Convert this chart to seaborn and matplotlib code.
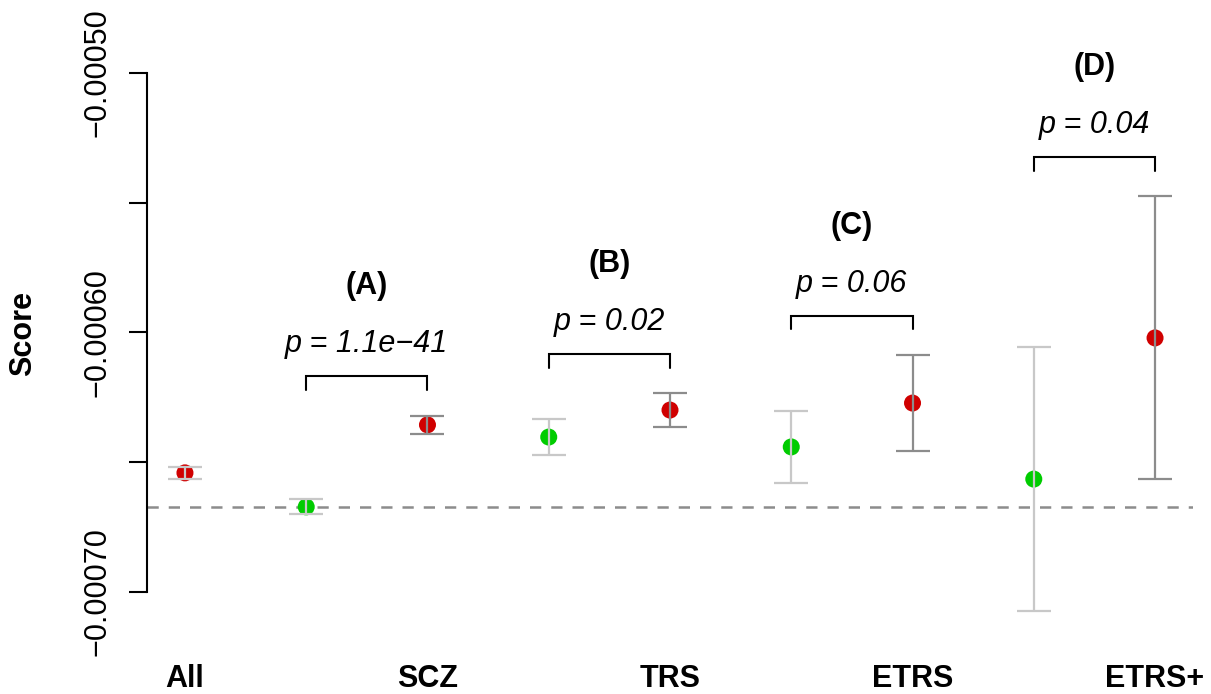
import numpy as np
import pandas as pd
import matplotlib
matplotlib.use("Agg")
import matplotlib.pyplot as plt
import seaborn as sns

# Group labels and panel letters
groups = ["All", "SCZ", "TRS", "ETRS", "ETRS+"]
panels = ["(A)", "(B)", "(C)", "(D)"]
p_labels = ["p = 1.1e\u221241", "p = 0.02", "p = 0.06", "p = 0.04"]

# Overall score
all_mean = -0.0006541
all_err = 0.0000023

# Comparison (green) and case (red) scores for SCZ, TRS, ETRS, ETRS+
ctrl_mean = [-0.0006672, -0.0006403, -0.0006441, -0.0006565]
ctrl_err = [0.0000029, 0.0000071, 0.0000139, 0.0000509]
case_mean = [-0.0006356, -0.0006299, -0.0006272, -0.0006021]
case_err = [0.0000035, 0.0000064, 0.0000185, 0.0000545]

# Reference level drawn as a dashed line
baseline = ctrl_mean[0]

sns.set_theme(style="white")
plt.rcParams["font.family"] = ["Liberation Sans", "DejaVu Sans"]
plt.rcParams["axes.unicode_minus"] = True
plt.rcParams["text.color"] = "black"
plt.rcParams["axes.labelcolor"] = "black"
plt.rcParams["xtick.color"] = "black"
plt.rcParams["ytick.color"] = "black"

RED = "#d00000"
GREEN = "#00cc00"
LIGHT = "#c8c8c8"
DARK = "#8c8c8c"
FS = 22

# Positions: All at 1, then pairs (ctrl, case) at 2..9
ctrl_pos = np.array([2, 4, 6, 8])
case_pos = ctrl_pos + 1

df = pd.DataFrame({
    "pos": np.concatenate([[1], ctrl_pos, case_pos]),
    "score": np.concatenate([[all_mean], ctrl_mean, case_mean]),
    "err": np.concatenate([[all_err], ctrl_err, case_err]),
    "kind": ["case"] + ["ctrl"] * 4 + ["case"] * 4,
})

fig = plt.figure(figsize=(12.11, 6.94), dpi=100)
ax = fig.add_axes([147 / 1211, 54 / 694, 1046 / 1211, 620 / 694])

ax.axhline(baseline, color="#8c8c8c", lw=1.8, ls=(0, (4.5, 4)), zorder=1)

sns.scatterplot(data=df, x="pos", y="score", hue="kind",
                palette={"case": RED, "ctrl": GREEN}, s=150,
                linewidth=0, legend=False, ax=ax, zorder=2)

# Error bars: light grey for the overall and comparison groups, darker for cases
bar_colors = [LIGHT] + [LIGHT] * 4 + [DARK] * 4
for x, y, e, c in zip(df["pos"], df["score"], df["err"], bar_colors):
    ax.errorbar(x, y, yerr=e, fmt="none", ecolor=c, elinewidth=1.6,
                capsize=12, capthick=1.6, zorder=3)

# Significance brackets
gap, tick, p_off, lab_off = 0.0000152, 0.0000052, 0.0000123, 0.0000224
for i in range(4):
    top = max(ctrl_mean[i] + ctrl_err[i], case_mean[i] + case_err[i])
    yb = top + gap
    x0, x1 = ctrl_pos[i], case_pos[i]
    ax.plot([x0, x0, x1, x1], [yb - tick, yb, yb, yb - tick], color="black",
            lw=1.5, solid_joinstyle="miter", clip_on=False)
    xm = (x0 + x1) / 2
    ax.text(xm, yb + p_off, p_labels[i], ha="center", va="center",
            fontsize=FS, fontstyle="italic", color="black", clip_on=False)
    ax.text(xm, yb + p_off + lab_off, panels[i], ha="center", va="center",
            fontsize=FS, fontweight="bold", color="black", clip_on=False)

ax.set_xlim(0.687, 9.313)
ax.set_ylim(-0.0007185, -0.0004796)

for s in ["top", "right", "bottom"]:
    ax.spines[s].set_visible(False)
ax.spines["left"].set_bounds(-0.0007, -0.0005)
ax.spines["left"].set_color("black")
ax.spines["left"].set_linewidth(1.5)

yt = [-0.0007, -0.00065, -0.0006, -0.00055, -0.0005]
ax.set_yticks(yt)
ax.set_yticklabels(["\u22120.00070", "", "\u22120.00060", "", "\u22120.00050"],
                   rotation=90, va="center", fontsize=FS, color="black")
ax.tick_params(axis="y", direction="out", length=13, width=1.5,
               color="black", pad=12, left=True)

ax.set_xticks([1, 3, 5, 7, 9])
ax.set_xticklabels(groups, fontsize=FS, fontweight="bold", color="black")
ax.tick_params(axis="x", length=0, pad=17)

ax.set_xlabel("")
ax.set_ylabel("Score", fontsize=FS, fontweight="bold", color="black")
ax.yaxis.set_label_coords(-0.104, 0.495)

fig.savefig("out.png", dpi=100)
